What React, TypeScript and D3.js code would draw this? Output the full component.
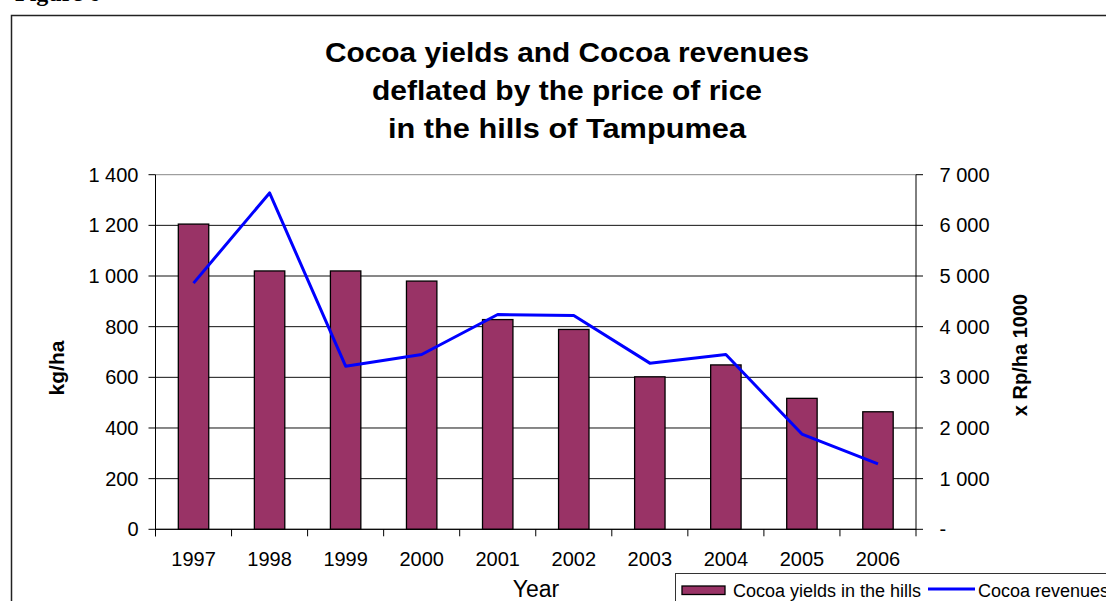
import { useEffect, useRef } from 'react';
import * as d3 from 'd3';

const years = ['1997', '1998', '1999', '2000', '2001', '2002', '2003', '2004', '2005', '2006'];
// kg/ha, left axis
const yields = [1205, 1020, 1020, 980, 828, 789, 602, 649, 517, 464];
// x Rp/ha 1000, right axis
const revenues = [4860, 6640, 3220, 3450, 4240, 4220, 3280, 3450, 1880, 1290];
const leftTicks = [0, 200, 400, 600, 800, 1000, 1200, 1400];
const rightTicks = [0, 1000, 2000, 3000, 4000, 5000, 6000, 7000];
const titleLines = [
  'Cocoa yields and Cocoa revenues',
  'deflated by the price of rice',
  'in the hills of Tampumea',
];
const legendLabels = ['Cocoa yields in the hills', 'Cocoa revenues'];

const W = 1106;
const H = 601;
const FONT = '"Liberation Sans", Arial, sans-serif';
const BAR = '#993366';
const LINE = '#0000FF';

export default function App() {
  const svgRef = useRef<SVGSVGElement>(null);

  useEffect(() => {
    if (!svgRef.current) return;
    const svg = d3.select(svgRef.current);
    svg.selectAll('*').remove();

    const plot = { left: 155.5, right: 916, top: 174.7, bottom: 529.3 };

    const x = d3
      .scaleBand<string>()
      .domain(years)
      .range([plot.left, plot.right])
      .paddingInner(0.6)
      .paddingOuter(0.3);
    const step = x.step();
    const yL = d3.scaleLinear().domain([0, 1400]).range([plot.bottom, plot.top]);
    const yR = d3.scaleLinear().domain([0, 7000]).range([plot.bottom, plot.top]);

    const fmt = d3.formatLocale({ decimal: '.', thousands: ' ', grouping: [3], currency: ['', ''] }).format(',');

    svg.append('rect').attr('width', W).attr('height', H).attr('fill', '#fff');

    // caption above the frame, mostly cut off by the page edge
    svg.append('text')
      .attr('x', 15).attr('y', 0.5)
      .attr('font-family', '"Liberation Serif", "Times New Roman", serif')
      .attr('font-weight', 700).attr('font-size', 24)
      .attr('fill', '#000')
      .text('Figure 6');

    // outer chart frame
    svg.append('rect')
      .attr('x', 11.5).attr('y', 15.5)
      .attr('width', 1200).attr('height', 700)
      .attr('fill', '#fff').attr('stroke', '#222').attr('stroke-width', 1.5);

    // title
    const titleW = [484, 390, 358];
    const titleY = [61.7, 100, 138.4];
    titleLines.forEach((t, i) => {
      svg.append('text')
        .attr('x', 567).attr('y', titleY[i])
        .attr('text-anchor', 'middle')
        .attr('font-family', FONT).attr('font-weight', 700).attr('font-size', 27)
        .attr('textLength', titleW[i]).attr('lengthAdjust', 'spacingAndGlyphs')
        .attr('fill', '#000')
        .text(t);
    });

    const g = svg.append('g');

    // gridlines
    leftTicks.forEach((v) => {
      g.append('line')
        .attr('x1', plot.left).attr('x2', plot.right)
        .attr('y1', yL(v)).attr('y2', yL(v))
        .attr('stroke', v === 1400 ? '#888' : '#111').attr('stroke-width', 1);
    });

    // bars
    years.forEach((yr, i) => {
      g.append('rect')
        .attr('x', x(yr)!)
        .attr('y', yL(yields[i]))
        .attr('width', x.bandwidth())
        .attr('height', yL(0) - yL(yields[i]))
        .attr('fill', BAR)
        .attr('stroke', '#000').attr('stroke-width', 1.3);
    });

    // axes lines
    g.append('line')
      .attr('x1', plot.left).attr('x2', plot.left)
      .attr('y1', plot.top).attr('y2', plot.bottom + 7)
      .attr('stroke', '#000');
    g.append('line')
      .attr('x1', plot.right).attr('x2', plot.right)
      .attr('y1', plot.top).attr('y2', plot.bottom + 7)
      .attr('stroke', '#000');
    g.append('line')
      .attr('x1', plot.left).attr('x2', plot.right)
      .attr('y1', plot.bottom).attr('y2', plot.bottom)
      .attr('stroke', '#000');

    // left ticks & labels
    leftTicks.forEach((v) => {
      g.append('line')
        .attr('x1', plot.left - 7).attr('x2', plot.left)
        .attr('y1', yL(v)).attr('y2', yL(v))
        .attr('stroke', '#000');
      g.append('text')
        .attr('x', 138.5).attr('y', yL(v))
        .attr('text-anchor', 'end').attr('dominant-baseline', 'central')
        .attr('font-family', FONT).attr('font-size', 20).attr('fill', '#000')
        .text(fmt(v));
    });

    // right ticks & labels
    rightTicks.forEach((v) => {
      g.append('line')
        .attr('x1', plot.right).attr('x2', plot.right + 7)
        .attr('y1', yR(v)).attr('y2', yR(v))
        .attr('stroke', '#000');
      g.append('text')
        .attr('x', 939.5).attr('y', yR(v))
        .attr('dominant-baseline', 'central')
        .attr('font-family', FONT).attr('font-size', 20).attr('fill', '#000')
        .text(v === 0 ? '-' : fmt(v));
    });

    // category ticks & year labels
    years.forEach((yr, i) => {
      const bx = plot.left + i * step;
      g.append('line')
        .attr('x1', bx).attr('x2', bx)
        .attr('y1', plot.bottom).attr('y2', plot.bottom + 7)
        .attr('stroke', '#000');
      g.append('text')
        .attr('x', x(yr)! + x.bandwidth() / 2).attr('y', 565.7)
        .attr('text-anchor', 'middle')
        .attr('font-family', FONT).attr('font-size', 20).attr('fill', '#000')
        .text(yr);
    });

    // revenue line
    const line = d3
      .line<number>()
      .x((_, i) => x(years[i])! + x.bandwidth() / 2)
      .y((d) => yR(d));
    g.append('path')
      .datum(revenues)
      .attr('d', line)
      .attr('fill', 'none')
      .attr('stroke', LINE).attr('stroke-width', 3)
      .attr('stroke-linejoin', 'round');

    // axis titles
    svg.append('text')
      .attr('transform', 'translate(64,368) rotate(-90)')
      .attr('text-anchor', 'middle')
      .attr('font-family', FONT).attr('font-weight', 700).attr('font-size', 21)
      .attr('fill', '#000')
      .text('kg/ha');
    svg.append('text')
      .attr('transform', 'translate(1027,355) rotate(-90)')
      .attr('text-anchor', 'middle')
      .attr('font-family', FONT).attr('font-weight', 700).attr('font-size', 20)
      .attr('fill', '#000')
      .text('x Rp/ha 1000');
    svg.append('text')
      .attr('x', 536).attr('y', 597)
      .attr('text-anchor', 'middle')
      .attr('font-family', FONT).attr('font-size', 23).attr('fill', '#000')
      .text('Year');

    // legend
    const lg = svg.append('g');
    lg.append('rect')
      .attr('x', 675.5).attr('y', 573.5)
      .attr('width', 600).attr('height', 100)
      .attr('fill', '#fff').attr('stroke', '#333').attr('stroke-width', 1);
    lg.append('rect')
      .attr('x', 682).attr('y', 586)
      .attr('width', 43).attr('height', 8.5)
      .attr('fill', BAR).attr('stroke', '#000').attr('stroke-width', 1.3);
    lg.append('text')
      .attr('x', 733).attr('y', 596.5)
      .attr('font-family', FONT).attr('font-size', 18).attr('fill', '#000')
      .text(legendLabels[0]);
    lg.append('line')
      .attr('x1', 928).attr('x2', 975)
      .attr('y1', 589).attr('y2', 589)
      .attr('stroke', LINE).attr('stroke-width', 3);
    lg.append('text')
      .attr('x', 978).attr('y', 596.5)
      .attr('font-family', FONT).attr('font-size', 18).attr('fill', '#000')
      .text(legendLabels[1]);
  }, []);

  return (
    <div style={{ position: 'absolute', left: 0, top: 0, width: W, height: H, overflow: 'hidden', background: '#fff' }}>
      <svg ref={svgRef} width={W} height={H} style={{ display: 'block' }} />
    </div>
  );
}
